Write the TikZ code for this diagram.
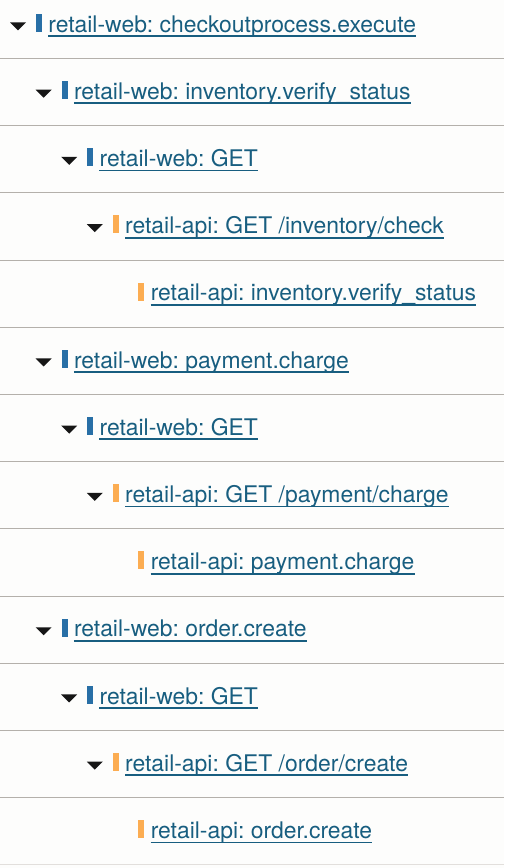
\documentclass[tikz,border=0pt]{standalone}
\usepackage{fontspec}
\setmainfont{TeX Gyre Heros}
\usetikzlibrary{positioning}
\usetikzlibrary{shapes.geometric}

\definecolor{pagebg}{RGB}{253,253,252}
\definecolor{linkteal}{RGB}{24,94,128}
\definecolor{webblue}{RGB}{40,111,166}
\definecolor{apiorange}{RGB}{252,173,82}
\definecolor{sepgrey}{RGB}{180,176,171}
\definecolor{lastgrey}{RGB}{226,223,220}
\definecolor{togblack}{RGB}{22,22,22}

\newcommand{\spanfont}{\fontsize{22.9pt}{27pt}\selectfont\frenchspacing}

\begin{document}
\begin{tikzpicture}[
		x=1pt, y=-1pt,
		webbar/.style={
			rectangle,
			fill=webblue,
			minimum width=6pt,
			minimum height=18pt,
			inner sep=0pt,
			anchor=south
		},
		apibar/.style={webbar, fill=apiorange},
		toggle/.style={
			isosceles triangle,
			isosceles triangle apex angle=90,
			isosceles triangle stretches,
			shape border rotate=270,
			fill=togblack,
			inner sep=0pt,
			minimum width=16pt,
			minimum height=8pt
		},
		spanlbl/.style={
			inner sep=0pt,
			text=linkteal,
			font=\spanfont
		},
		uline/.style={draw=linkteal, line width=1.8pt},
		sep/.style={draw=sepgrey, line width=1pt}
		]
		
		\fill[pagebg] (0,0) rectangle (504,868);
		\useasboundingbox (0,0) rectangle (504,868);
		
		%%%%%%%%%% rows
		
		\node[webbar] (bar0) at (39,32) {};
		\node[toggle, at={([xshift=-21pt,yshift=-3pt]bar0.center)}] (tog0) {};
		\node[spanlbl, right=6pt of bar0.south east, anchor=base west] (span0) {retail-web: checkoutprocess.execute};
		
		\node[webbar] (bar1) at (64.6,99.2) {};
		\node[toggle, at={([xshift=-21pt,yshift=-3pt]bar1.center)}] (tog1) {};
		\node[spanlbl, right=6pt of bar1.south east, anchor=base west] (span1) {retail-web: inventory.verify\_status};
		
		\node[webbar] (bar2) at (90.2,166.4) {};
		\node[toggle, at={([xshift=-21pt,yshift=-3pt]bar2.center)}] (tog2) {};
		\node[spanlbl, right=6pt of bar2.south east, anchor=base west] (span2) {retail-web: GET};
		
		\node[apibar] (bar3) at (115.8,233.6) {};
		\node[toggle, at={([xshift=-21pt,yshift=-3pt]bar3.center)}] (tog3) {};
		\node[spanlbl, right=6pt of bar3.south east, anchor=base west] (span3) {retail-api: GET /inventory/check};
		
		\node[apibar] (bar4) at (141.4,300.8) {};
		\node[spanlbl, right=6pt of bar4.south east, anchor=base west] (span4) {retail-api: inventory.verify\_status};
		
		\node[webbar] (bar5) at (64.6,368.0) {};
		\node[toggle, at={([xshift=-21pt,yshift=-3pt]bar5.center)}] (tog5) {};
		\node[spanlbl, right=6pt of bar5.south east, anchor=base west] (span5) {retail-web: payment.charge};
		
		\node[webbar] (bar6) at (90.2,435.2) {};
		\node[toggle, at={([xshift=-21pt,yshift=-3pt]bar6.center)}] (tog6) {};
		\node[spanlbl, right=6pt of bar6.south east, anchor=base west] (span6) {retail-web: GET};
		
		\node[apibar] (bar7) at (115.8,502.4) {};
		\node[toggle, at={([xshift=-21pt,yshift=-3pt]bar7.center)}] (tog7) {};
		\node[spanlbl, right=6pt of bar7.south east, anchor=base west] (span7) {retail-api: GET /payment/charge};
		
		\node[apibar] (bar8) at (141.4,569.6) {};
		\node[spanlbl, right=6pt of bar8.south east, anchor=base west] (span8) {retail-api: payment.charge};
		
		\node[webbar] (bar9) at (64.6,636.8) {};
		\node[toggle, at={([xshift=-21pt,yshift=-3pt]bar9.center)}] (tog9) {};
		\node[spanlbl, right=6pt of bar9.south east, anchor=base west] (span9) {retail-web: order.create};
		
		\node[webbar] (bar10) at (90.2,704.0) {};
		\node[toggle, at={([xshift=-21pt,yshift=-3pt]bar10.center)}] (tog10) {};
		\node[spanlbl, right=6pt of bar10.south east, anchor=base west] (span10) {retail-web: GET};
		
		\node[apibar] (bar11) at (115.8,771.2) {};
		\node[toggle, at={([xshift=-21pt,yshift=-3pt]bar11.center)}] (tog11) {};
		\node[spanlbl, right=6pt of bar11.south east, anchor=base west] (span11) {retail-api: GET /order/create};
		
		\node[apibar] (bar12) at (141.4,838.4) {};
		\node[spanlbl, right=6pt of bar12.south east, anchor=base west] (span12) {retail-api: order.create};
		
		%%%%%%%%%% underlines
		
		\draw[uline] ([yshift=-4pt]span0.base west) -- ([yshift=-4pt]span0.base east);
		\draw[uline] ([yshift=-4pt]span1.base west) -- ([yshift=-4pt]span1.base east);
		\draw[uline] ([yshift=-4pt]span2.base west) -- ([yshift=-4pt]span2.base east);
		\draw[uline] ([yshift=-4pt]span3.base west) -- ([yshift=-4pt]span3.base east);
		\draw[uline] ([yshift=-4pt]span4.base west) -- ([yshift=-4pt]span4.base east);
		\draw[uline] ([yshift=-4pt]span5.base west) -- ([yshift=-4pt]span5.base east);
		\draw[uline] ([yshift=-4pt]span6.base west) -- ([yshift=-4pt]span6.base east);
		\draw[uline] ([yshift=-4pt]span7.base west) -- ([yshift=-4pt]span7.base east);
		\draw[uline] ([yshift=-4pt]span8.base west) -- ([yshift=-4pt]span8.base east);
		\draw[uline] ([yshift=-4pt]span9.base west) -- ([yshift=-4pt]span9.base east);
		\draw[uline] ([yshift=-4pt]span10.base west) -- ([yshift=-4pt]span10.base east);
		\draw[uline] ([yshift=-4pt]span11.base west) -- ([yshift=-4pt]span11.base east);
		\draw[uline] ([yshift=-4pt]span12.base west) -- ([yshift=-4pt]span12.base east);
		
		%%%%%%%%%% row separators
		
		\draw[sep] (0,58.5) -- (504,58.5);
		\draw[sep] (0,125.5) -- (504,125.5);
		\draw[sep] (0,192.5) -- (504,192.5);
		\draw[sep] (0,260.5) -- (504,260.5);
		\draw[sep] (0,327.5) -- (504,327.5);
		\draw[sep] (0,394.5) -- (504,394.5);
		\draw[sep] (0,461.5) -- (504,461.5);
		\draw[sep] (0,528.5) -- (504,528.5);
		\draw[sep] (0,596.5) -- (504,596.5);
		\draw[sep] (0,663.5) -- (504,663.5);
		\draw[sep] (0,730.5) -- (504,730.5);
		\draw[sep] (0,797.5) -- (504,797.5);
		\draw[sep, draw=lastgrey] (0,864.5) -- (504,864.5);
		
	\end{tikzpicture}
\end{document}
